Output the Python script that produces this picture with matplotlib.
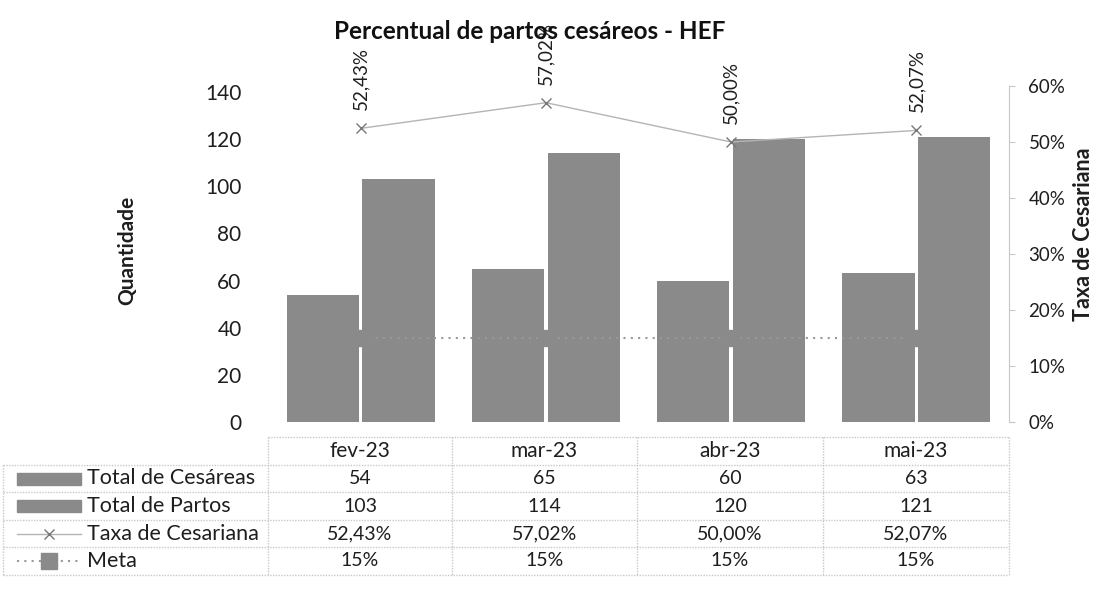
import matplotlib
matplotlib.use("Agg")
import matplotlib.pyplot as plt
from matplotlib.patches import Rectangle

plt.rcParams['font.family'] = ['Lato', 'DejaVu Sans']

categories = ["fev-23", "mar-23", "abr-23", "mai-23"]
cesareas = [54, 65, 60, 63]
partos = [103, 114, 120, 121]
taxa = [0.5243, 0.5702, 0.5000, 0.5207]
meta = [0.15, 0.15, 0.15, 0.15]
left_ticks = [0, 20, 40, 60, 80, 100, 120, 140]
right_ticks = [0, 0.1, 0.2, 0.3, 0.4, 0.5, 0.6]
series_names = ["Total de Cesáreas", "Total de Partos", "Taxa de Cesariana", "Meta"]

W, H = 1093, 604
fig = plt.figure(figsize=(W / 100, H / 100), dpi=100)

BAR = '#8a8a8a'
LINE = '#b4b4b4'
GRID = '#c8c8c8'
TXT = '#1e1e1e'

# plot area in pixels
x0, x1 = 268, 1009
y_top, y_bot = 86, 422
ax = fig.add_axes([x0 / W, 1 - y_bot / H, (x1 - x0) / W, (y_bot - y_top) / H])
ax2 = ax.twinx()

xs = list(range(len(categories)))
bw = 0.39
off = 0.205
ax.bar([x - off for x in xs], cesareas, width=bw, color=BAR, zorder=2)
ax.bar([x + off for x in xs], partos, width=bw, color=BAR, zorder=2)
ax.set_xlim(-0.5, len(categories) - 0.5)
ax.set_ylim(0, 142.5)
ax.set_yticks(left_ticks)
ax.set_yticklabels([str(v) for v in left_ticks], fontsize=15, color=TXT)
ax.tick_params(axis='y', length=0, pad=19)
ax.set_xticks([])
for s in ax.spines.values():
    s.set_visible(False)
ax.set_ylabel("Quantidade", fontsize=15, fontweight='bold', color=TXT)
ax.yaxis.set_label_coords(-0.176, 0.51)

ax2.set_ylim(0, 0.6)
ax2.set_yticks(right_ticks)
ax2.set_yticklabels([f"{int(round(v * 100))}%" for v in right_ticks], fontsize=13.5, color=TXT)
ax2.tick_params(axis='y', length=4, color=GRID, pad=10)
for k, s in ax2.spines.items():
    s.set_visible(k == 'right')
ax2.spines['right'].set_color(GRID)
ax2.spines['right'].set_linestyle((0, (1, 1)))
ax2.set_ylabel("Taxa de Cesariana", fontsize=15.5, fontweight='bold', color=TXT)
ax2.yaxis.set_label_coords(1.086, 0.56)

ax2.plot(xs, taxa, color=LINE, lw=1, marker='x', ms=7, mec='#777777', mew=1, zorder=3)
ax2.plot(xs, meta, color='#999999', lw=1.5, ls=(0, (1, 2.5)), marker='s', ms=12,
         mfc=BAR, mec=BAR, zorder=1)
for x, v in zip(xs, taxa):
    ax2.annotate(f"{v * 100:.2f}%".replace('.', ','), (x, v), xytext=(0, 13),
                 textcoords='offset points', rotation=90, ha='center', va='bottom',
                 fontsize=13.5, color=TXT)

fig.text(0.485, 0.948, "Percentual de partos cesáreos - HEF", ha='center', va='center',
         fontsize=17.5, fontweight='bold', color='#111111')

# data table
tab = fig.add_axes([0, 0, 1, 1], zorder=5)
tab.set_xlim(0, W)
tab.set_ylim(H, 0)
tab.axis('off')
col_edges = [268, 452, 637, 823, 1009]
row_edges = [437, 465, 492, 520, 547, 575]
grid_kw = dict(color=GRID, lw=1, ls=(0, (1, 1)))
tab.plot([col_edges[0], col_edges[-1]], [row_edges[0]] * 2, **grid_kw)
for y in row_edges[1:]:
    tab.plot([3, col_edges[-1]], [y, y], **grid_kw)
for x in col_edges:
    tab.plot([x, x], [row_edges[0], row_edges[-1]], **grid_kw)
tab.plot([3, 3], [row_edges[1], row_edges[-1]], **grid_kw)

def center(i):
    return (col_edges[i] + col_edges[i + 1]) / 2

def rowc(j):
    return (row_edges[j] + row_edges[j + 1]) / 2

for i, c in enumerate(categories):
    tab.text(center(i), rowc(0), c, ha='center', va='center', fontsize=15, color=TXT)
rows = [
    [str(v) for v in cesareas],
    [str(v) for v in partos],
    [f"{v * 100:.2f}%".replace('.', ',') for v in taxa],
    [f"{int(round(v * 100))}%" for v in meta],
]
for j, vals in enumerate(rows):
    for i, t in enumerate(vals):
        tab.text(center(i), rowc(j + 1), t, ha='center', va='center', fontsize=14, color=TXT)
    tab.text(87, rowc(j + 1), series_names[j], ha='left', va='center', fontsize=15.5, color=TXT)

# legend keys
for j in range(2):
    yc = rowc(j + 1)
    tab.add_patch(Rectangle((17, yc - 6), 64, 12, color=BAR))
yc = rowc(3)
tab.plot([17, 81], [yc, yc], color=LINE, lw=1)
tab.plot([49], [yc], marker='x', ms=7, mec='#777777', mew=1)
yc = rowc(4)
tab.plot([17, 81], [yc, yc], color='#999999', lw=1.5, ls=(0, (1, 2.5)))
tab.plot([49], [yc], marker='s', ms=11, mfc=BAR, mec=BAR)

fig.savefig("out.png", dpi=100)
